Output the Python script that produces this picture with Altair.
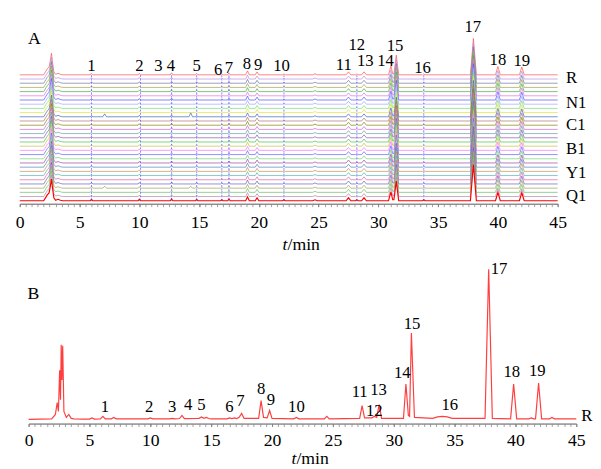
import altair as alt
import pandas as pd

FONT = "Liberation Serif"

# ---------------- Panel A: overlaid fingerprints (signal above each trace's baseline) ----------
a_time = [0, 2.0, 2.2, 2.3, 2.45, 2.55, 2.65, 2.75, 2.85, 3.0, 3.2, 3.4, 3.6,
          5.9, 6.0, 6.1, 9.9, 10.0, 10.1, 12.6, 12.7, 12.8, 14.7, 14.8, 14.9,
          16.8, 16.9, 17.0, 17.4, 17.5, 17.6, 18.9, 19.05, 19.2, 19.7, 19.85, 20.0,
          22.0, 22.1, 22.2, 24.5, 24.7, 24.9, 27.3, 27.5, 27.7, 28.1, 28.2, 28.3,
          28.6, 28.8, 29.0, 30.85, 31.05, 31.2, 31.3, 31.5, 31.7, 33.7, 33.8, 33.9,
          37.7, 37.95, 38.2, 39.8, 40.0, 40.2, 41.8, 42.0, 42.2, 45]
a_signal = [0, 0, 4, 6, 8, 14, 22, 12, 3, 0.5, 1.5, 0.5, 0,
            0, 1.5, 0, 0, 1.5, 0, 0, 2, 0, 0, 1.5, 0,
            0, 1, 0, 0, 2, 0, 0, 4, 0, 0, 3, 0,
            0, 1, 0, 0, 1, 0, 0, 3, 0, 0, 1, 0,
            0, 3, 0, 0, 9, 1, 1, 20, 0, 0, 1, 0,
            0, 37, 0, 0, 8.5, 0, 0, 8, 0, 0]

trace_colors = ["#ff5050", "#b48cdc", "#7070b0", "#a0a040", "#40b040", "#e070e0",
                "#5050ff", "#a0a0ff", "#70e070", "#e0e030", "#4060c0", "#b07070",
                "#808000", "#d060d0", "#60a0a0", "#9050c0", "#40c040", "#c0c040",
                "#ff70ff", "#6060ff", "#70d070", "#a040a0", "#5080c0", "#c09050",
                "#50b0b0", "#e060a0", "#6060c0", "#a0a050", "#60c060", "#b080b0",
                "#ff0000"]

extra_trace = [10, 10, 27, 27]
extra_time = [7.1, 14.3, 7.1, 14.3]
extra_height = [3, 4, 2, 2]

marker_times = [6.0, 10.1, 12.7, 14.8, 16.9, 17.5, 22.1, 28.2, 33.8]

major_ticks = [0, 5, 10, 15, 20, 25, 30, 35, 40, 45]
minor_ticks = [i * 0.5 for i in range(91)]

peak_ids = [str(i) for i in range(1, 20)]
a_label_time = [6.0, 10.0, 11.6, 12.65, 14.8, 16.6, 17.5, 19.0, 19.95, 21.9,
                27.1, 28.2, 28.9, 30.6, 31.4, 33.7, 37.9, 40.0, 42.0]
a_label_level = [137, 137, 137, 137, 137, 133, 135, 139, 138, 137,
                 138, 159, 142, 142, 158, 135, 177, 143, 142]

side_labels = ["R", "N1", "C1", "B1", "Y1", "Q1"]
side_level = [125, 100, 77, 53, 28, 5]

# ---------------- Panel B: reference chromatogram R ----------------
b_time = [0, 1.9, 2.2, 2.35, 2.45, 2.55, 2.62, 2.68, 2.74, 2.8, 2.9, 3.1, 3.3, 3.5, 3.7,
          4.5, 5.0, 5.2, 5.4, 5.9, 6.1, 6.3, 6.8, 7.0, 7.2, 9.8, 10.0, 10.2,
          11.6, 11.8, 12.0, 12.4, 12.6, 12.8, 14.0, 14.2, 14.4, 14.6, 14.8, 15.0,
          16.3, 16.5, 16.7, 16.9, 17.1, 17.3, 17.5, 17.7, 18.9, 19.1, 19.3,
          19.6, 19.8, 20.0, 21.8, 22.0, 22.2, 24.3, 24.5, 24.7, 27.2, 27.4, 27.6,
          28.2, 28.4, 28.6, 28.8, 29.0, 30.8, 31.0, 31.2, 31.3, 31.45, 31.7,
          33.2, 33.6, 34.0, 34.4, 34.8, 37.5, 37.8, 38.1, 39.6, 39.85, 40.1,
          41.1, 41.3, 41.5, 41.65, 41.9, 42.15, 42.8, 43.0, 43.2, 45]
b_signal = [0, 0.5, 5, 17, 8, 50, 20, 76, 40, 75, 8, 2, 5, 1, 0.5,
            0.3, 0.3, 1.5, 0.3, 0.5, 3, 0.5, 0.5, 2, 0.5, 0.5, 1.5, 0.5,
            0.5, 1, 0.5, 0.8, 4, 0.8, 1, 2.5, 1, 2, 0.8, 0.5,
            0.5, 1.5, 0.8, 1.5, 0.8, 2, 6, 1, 1, 19, 2,
            1.5, 9, 1, 0.5, 2, 0.5, 0.5, 3, 0.5, 1, 14, 1.5,
            1.5, 3, 2, 15, 1, 1, 36, 4, 3, 88, 2,
            1, 2.5, 3, 2.5, 1, 1, 153, 1, 0.5, 36, 0.5,
            0.5, 1.5, 0.5, 0.5, 37, 0.5, 0.5, 2, 0.5, 0.5]

b_label_time = [6.27, 9.9, 11.8, 13.1, 14.2, 16.5, 17.4, 19.1, 19.9, 22.0,
                27.2, 28.4, 28.75, 30.7, 31.5, 34.6, 38.65, 39.7, 41.8]
b_label_level = [12.7, 12.7, 12, 14.7, 14.7, 12.7, 18.7, 31, 19.7, 12.7,
                 27.7, 8.7, 29.7, 47, 96.7, 14.7, 152.7, 47.7, 48.7]

# ---------------- build tables ----------------
n_tr = len(trace_colors)
spacing = 128.3 / (n_tr - 1)
names = [f"s{i:02d}" for i in range(n_tr)]
rows = []
for i in range(n_tr):
    pts = list(zip(a_time, a_signal))
    for tr, t, h in zip(extra_trace, extra_time, extra_height):
        if tr == i:
            pts += [(t - 0.15, 0), (t, h), (t + 0.15, 0)]
    pts.sort(key=lambda p: p[0])
    off = (n_tr - 1 - i) * spacing
    for k, (t, v) in enumerate(pts):
        rows.append({"trace": names[i], "t": t, "y": v + off, "k": k})
a_df = pd.DataFrame(rows)


def major_axis(pad):
    return alt.Axis(values=major_ticks, orient="bottom", tickSize=3, tickColor="#777",
                    domainColor="#555", labelFont=FONT, labelFontSize=18,
                    labelColor="black", labelPadding=pad, labelFlush=False,
                    grid=False, title=None)


minor_axis = alt.Axis(values=minor_ticks, orient="bottom", tickSize=3, tickColor="#888",
                      tickWidth=0.8, domain=False, labels=False, grid=False, title=None)

xs_a = alt.Scale(domain=[0, 45], nice=False, zero=False)
ya = alt.Y("y:Q", scale=alt.Scale(domain=[-3, 187], nice=False, zero=False), axis=None)
cscale = alt.Color("trace:N", scale=alt.Scale(domain=names, range=trace_colors), legend=None)

base_a = alt.Chart(a_df)
lines_a = base_a.transform_filter(alt.datum.trace != names[-1]).mark_line(
    strokeWidth=1, opacity=0.7).encode(
    x=alt.X("t:Q", scale=xs_a, axis=major_axis(7)), y=ya, color=cscale,
    detail="trace:N", order="k:Q")
last_a = base_a.transform_filter(alt.datum.trace == names[-1]).mark_line(
    strokeWidth=1.2, opacity=1).encode(
    x=alt.X("t:Q", scale=xs_a, axis=minor_axis), y="y:Q", color=cscale, order="k:Q")

rule_df = pd.DataFrame({"t": marker_times, "y": [0] * len(marker_times),
                        "y2": [128.3] * len(marker_times)})
rules_a = alt.Chart(rule_df).mark_rule(color="#4040ff", strokeDash=[2, 1.5], opacity=0.6,
                                       strokeWidth=1).encode(
    x=alt.X("t:Q", axis=None), y="y:Q", y2="y2:Q")


def text_layer(df, size=17, **kw):
    return alt.Chart(df).mark_text(font=FONT, fontSize=size, color="black", **kw).encode(
        x=alt.X("t:Q", axis=None), y="y:Q", text="lab:N")


pl_a = pd.DataFrame({"lab": peak_ids, "t": a_label_time, "y": a_label_level})
txt_a = text_layer(pl_a)
side_a = text_layer(pd.DataFrame({"lab": side_labels, "t": [45.7] * 6, "y": side_level}),
                    align="left")
letter_a = text_layer(pd.DataFrame({"lab": ["A"], "t": [1.23], "y": [165]}), size=18)
tA1 = text_layer(pd.DataFrame({"lab": ["t"], "t": [22.4], "y": [-45]}), size=18,
                 fontStyle="italic", align="right")
tA2 = text_layer(pd.DataFrame({"lab": ["/min"], "t": [22.4], "y": [-45]}), size=18,
                 align="left")

panel_a = alt.layer(lines_a, last_a, rules_a, txt_a, side_a, letter_a, tA1, tA2).resolve_axis(
    x="independent").properties(width=548, height=190)

# ---- panel B ----
b_df = pd.DataFrame({"t": b_time, "y": b_signal, "k": list(range(len(b_time)))})
xs_b = alt.Scale(domain=[0, 45], range=[9, 567], nice=False, zero=False)
yb = alt.Y("y:Q", scale=alt.Scale(domain=[-4.3, 164.7], nice=False, zero=False), axis=None)
line_b = alt.Chart(b_df).mark_line(color="#ff2a2a", strokeWidth=1.2, opacity=0.9).encode(
    x=alt.X("t:Q", scale=xs_b, axis=major_axis(5)), y=yb, order="k:Q")
minor_b = alt.Chart(b_df).mark_line(opacity=0).encode(
    x=alt.X("t:Q", scale=xs_b, axis=minor_axis), y="y:Q", order="k:Q")

pl_b = pd.DataFrame({"lab": peak_ids, "t": b_label_time, "y": b_label_level})
txt_b = text_layer(pl_b)
side_b = text_layer(pd.DataFrame({"lab": ["R"], "t": [45.4], "y": [3.4]}), align="left")
letter_b = text_layer(pd.DataFrame({"lab": ["B"], "t": [0.4], "y": [127.7]}), size=18)
tB1 = text_layer(pd.DataFrame({"lab": ["t"], "t": [22.0], "y": [-40.5]}), size=18,
                 fontStyle="italic", align="right")
tB2 = text_layer(pd.DataFrame({"lab": ["/min"], "t": [22.0], "y": [-40.5]}), size=18,
                 align="left")

panel_b = alt.layer(line_b, minor_b, txt_b, side_b, letter_b, tB1, tB2).resolve_axis(
    x="independent").properties(width=567, height=169)

chart = alt.vconcat(panel_a, panel_b, spacing=55, bounds="flush").properties(
    padding={"left": 7, "top": 5, "right": 0, "bottom": 0}
).configure_view(stroke=None)

chart.save("out.html", embed_options={"renderer": "svg", "actions": False})
